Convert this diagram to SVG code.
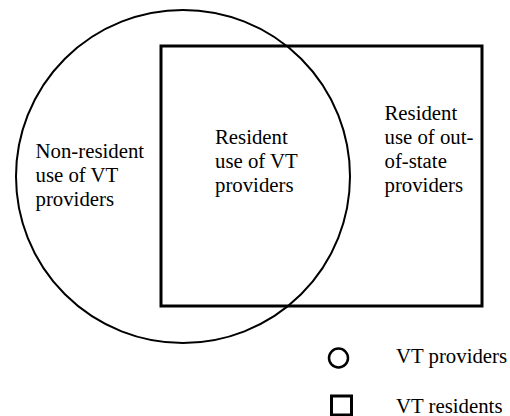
<svg xmlns="http://www.w3.org/2000/svg" width="510" height="416" viewBox="0 0 510 416">
<style>
.t{font-family:'Liberation Serif','Times New Roman',serif;font-size:20.8px;fill:#000}
.c{fill:none;stroke:#000;stroke-width:2}
.r{fill:none;stroke:#000;stroke-width:3}
</style>
<rect width="510" height="416" fill="#fff"/>
<g id="vt-providers">
<ellipse class="c" cx="183" cy="176.5" rx="167" ry="166.5"/>
</g>
<g id="vt-residents">
<rect class="r" x="161" y="46" width="321" height="260"/>
</g>
<g id="label-nonresident">
<text class="t" style="font-family:'Liberation Serif',serif" x="35.5" y="158">Non-resident</text>
<text class="t" style="font-family:'Liberation Serif',serif" x="35.5" y="182">use of VT</text>
<text class="t" style="font-family:'Liberation Serif',serif" x="35.5" y="206">providers</text>
</g>
<g id="label-resident-vt">
<text class="t" style="font-family:'Liberation Serif',serif" x="215" y="144">Resident</text>
<text class="t" style="font-family:'Liberation Serif',serif" x="215" y="168">use of VT</text>
<text class="t" style="font-family:'Liberation Serif',serif" x="215" y="192">providers</text>
</g>
<g id="label-resident-out">
<text class="t" style="font-family:'Liberation Serif',serif" x="384.5" y="120">Resident</text>
<text class="t" style="font-family:'Liberation Serif',serif" x="384.5" y="144">use of out-</text>
<text class="t" style="font-family:'Liberation Serif',serif" x="384.5" y="168">of-state</text>
<text class="t" style="font-family:'Liberation Serif',serif" x="384.5" y="192">providers</text>
</g>
<g id="legend">
<ellipse cx="338.5" cy="358" rx="9.5" ry="9.5" fill="none" stroke="#000" stroke-width="2.5"/>
<text class="t" style="font-family:'Liberation Serif',serif" x="396" y="363">VT providers</text>
<rect x="331.5" y="396" width="20" height="19" fill="none" stroke="#000" stroke-width="3"/>
<text class="t" style="font-family:'Liberation Serif',serif" x="396" y="412.5">VT residents</text>
</g>
<g id="connectors"/>
</svg>
